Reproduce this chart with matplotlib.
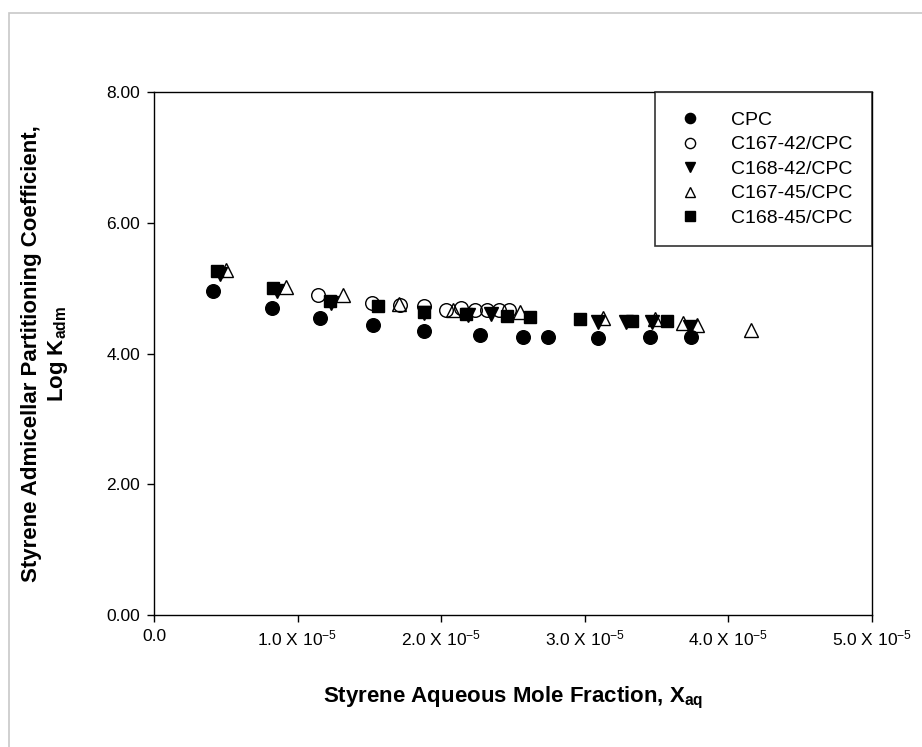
import matplotlib
matplotlib.use("Agg")
import matplotlib.pyplot as plt
from matplotlib.patches import Rectangle

plt.rcParams['font.family'] = ['Liberation Sans', 'DejaVu Sans']
plt.rcParams['mathtext.fontset'] = 'custom'
plt.rcParams['mathtext.rm'] = 'Liberation Sans'
plt.rcParams['mathtext.it'] = 'Liberation Sans'
plt.rcParams['mathtext.bf'] = 'Liberation Sans:bold'

# x values in units of 1e-5 (mole fraction)
cpc_x = [0.413, 0.82, 1.156, 1.527, 1.88, 2.27, 2.57, 2.745, 3.094, 3.454, 3.74]
cpc_y = [4.95, 4.69, 4.55, 4.43, 4.35, 4.29, 4.26, 4.26, 4.24, 4.26, 4.25]

c167_42_x = [1.144, 1.516, 1.71, 1.88, 2.03, 2.14, 2.235, 2.317, 2.40, 2.47]
c167_42_y = [4.89, 4.77, 4.74, 4.72, 4.67, 4.69, 4.66, 4.66, 4.66, 4.66]

c168_42_x = [0.46, 0.86, 1.23, 1.88, 2.19, 2.345, 3.09, 3.29, 3.466, 3.73]
c168_42_y = [5.21, 4.96, 4.78, 4.62, 4.59, 4.60, 4.48, 4.475, 4.475, 4.41]

c167_45_x = [0.50, 0.917, 1.314, 1.708, 2.08, 2.55, 3.13, 3.49, 3.686, 3.78, 4.16]
c167_45_y = [5.27, 5.02, 4.89, 4.755, 4.67, 4.63, 4.54, 4.53, 4.46, 4.43, 4.36]

c168_45_x = [0.437, 0.83, 1.226, 1.562, 1.88, 2.17, 2.456, 2.62, 2.97, 3.33, 3.57]
c168_45_y = [5.26, 5.00, 4.81, 4.72, 4.64, 4.61, 4.58, 4.56, 4.53, 4.50, 4.50]

x_ticks = [0, 1, 2, 3, 4, 5]
x_tick_labels = ['0.0', r'1.0 X 10$^{-5}$', r'2.0 X 10$^{-5}$', r'3.0 X 10$^{-5}$',
                 r'4.0 X 10$^{-5}$', r'5.0 X 10$^{-5}$']
y_ticks = [0, 2, 4, 6, 8]
y_tick_labels = ['0.00', '2.00', '4.00', '6.00', '8.00']

fig = plt.figure(figsize=(9.22, 7.47), dpi=100)
fig.patches.append(Rectangle((9/922, -0.5), 2, 0.5 + (1 - 13/747), transform=fig.transFigure,
                             fill=False, edgecolor='#c8c8c8', linewidth=1.2))
ax = fig.add_axes([154/922, 1 - 615/747, 718/922, 523/747])

ms = 9.8
ax.plot(cpc_x, cpc_y, 'o', ms=ms, mfc='black', mec='black', ls='none', label='CPC')
ax.plot(c167_42_x, c167_42_y, 'o', ms=ms, mfc='none', mec='black', mew=1.0, ls='none', label='C167-42/CPC')
ax.plot(c168_42_x, c168_42_y, 'v', ms=ms, mfc='black', mec='black', ls='none', label='C168-42/CPC')
ax.plot(c167_45_x, c167_45_y, '^', ms=ms, mfc='none', mec='black', mew=1.0, ls='none', label='C167-45/CPC')
ax.plot(c168_45_x, c168_45_y, 's', ms=ms*0.95, mfc='black', mec='black', ls='none', label='C168-45/CPC')

ax.set_xlim(0, 5)
ax.set_ylim(0, 8)
ax.set_xticks(x_ticks)
ax.set_xticklabels(x_tick_labels)
ax.set_yticks(y_ticks)
ax.set_yticklabels(y_tick_labels)
ax.tick_params(direction='out', length=5, width=1, labelsize=12.5, pad=5)
for s in ax.spines.values():
    s.set_linewidth(1.0)

ax.set_xlabel(r'Styrene Aqueous Mole Fraction, X$_{\mathbf{aq}}$', fontsize=16, fontweight='bold', labelpad=26)
ax.set_ylabel('Styrene Admicellar Partitioning Coefficient,\n' + r'Log K$_{\mathbf{adm}}$',
              fontsize=16, fontweight='bold', labelpad=26, linespacing=1.25)

leg = ax.legend(loc='upper right', borderaxespad=0, frameon=True, fancybox=False,
                fontsize=14, markerscale=0.75, handletextpad=1.3, borderpad=1.0,
                labelspacing=0.35, handlelength=1.6)
leg.get_frame().set_edgecolor('black')
leg.get_frame().set_linewidth(1.2)

fig.savefig('out.png', dpi=100)
